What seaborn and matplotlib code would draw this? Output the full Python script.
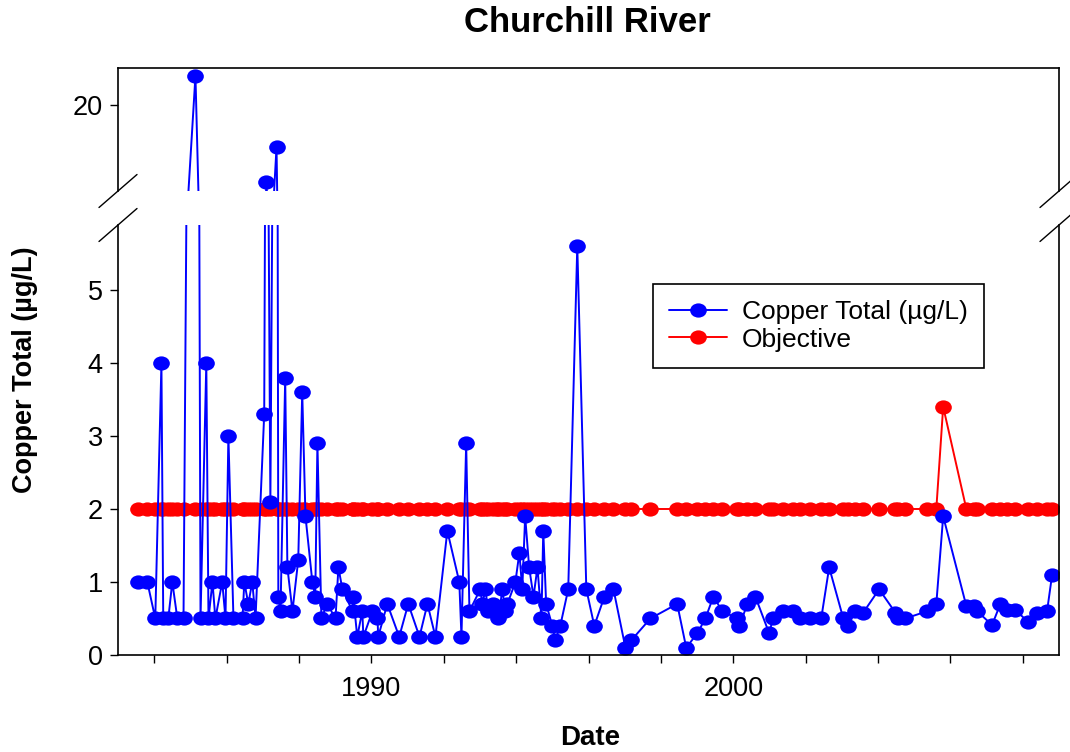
import numpy as np
import pandas as pd
import matplotlib
matplotlib.use("Agg")
import matplotlib.pyplot as plt
import seaborn as sns
from matplotlib.lines import Line2D
from matplotlib.path import Path

dates = [1983.56, 1983.81, 1984.03, 1984.20, 1984.25, 1984.39, 1984.50, 1984.64, 1984.81, 1985.14,
         1985.28, 1985.44, 1985.50, 1985.61, 1985.69, 1985.88, 1985.97, 1986.05, 1986.19, 1986.44,
         1986.49, 1986.60, 1986.71, 1986.80, 1987.04, 1987.10, 1987.21, 1987.38, 1987.43, 1987.49,
         1987.62, 1987.68, 1987.82, 1987.98, 1988.09, 1988.18, 1988.37, 1988.45, 1988.51, 1988.62,
         1988.78, 1989.01, 1989.09, 1989.20, 1989.48, 1989.50, 1989.61, 1989.75, 1989.78, 1990.03,
         1990.17, 1990.19, 1990.44, 1990.77, 1991.02, 1991.33, 1991.55, 1991.77, 1992.10, 1992.43,
         1992.49, 1992.62, 1992.71, 1993.01, 1993.07, 1993.15, 1993.23, 1993.37, 1993.48, 1993.51,
         1993.62, 1993.70, 1993.76, 1993.98, 1994.09, 1994.17, 1994.25, 1994.36, 1994.48, 1994.59,
         1994.70, 1994.75, 1994.83, 1995.00, 1995.08, 1995.22, 1995.44, 1995.69, 1995.94, 1996.16,
         1996.44, 1996.69, 1997.02, 1997.18, 1997.71, 1998.45, 1998.70, 1999.01, 1999.23, 1999.45,
         1999.70, 2000.11, 2000.17, 2000.39, 2000.61, 2000.99, 2001.10, 2001.38, 2001.66, 2001.85,
         2002.13, 2002.43, 2002.65, 2003.04, 2003.18, 2003.37, 2003.59, 2004.03, 2004.48, 2004.56,
         2004.75, 2005.36, 2005.61, 2005.80, 2006.44, 2006.66, 2006.74, 2007.15, 2007.38, 2007.57,
         2007.79, 2008.15, 2008.40, 2008.67, 2008.81]

copper = [1.0, 1.0, 0.5, 4.0, 0.5, 0.5, 1.0, 0.5, 0.5, 23.4,
          0.5, 4.0, 0.5, 1.0, 0.5, 1.0, 0.5, 3.0, 0.5, 0.5,
          1.0, 0.7, 1.0, 0.5, 3.3, 11.0, 2.1, 15.1, 0.8, 0.6,
          3.8, 1.2, 0.6, 1.3, 3.6, 1.9, 1.0, 0.8, 2.9, 0.5,
          0.7, 0.5, 1.2, 0.9, 0.6, 0.8, 0.25, 0.6, 0.25, 0.6,
          0.5, 0.25, 0.7, 0.25, 0.7, 0.25, 0.7, 0.25, 1.7, 1.0,
          0.25, 2.9, 0.6, 0.9, 0.7, 0.9, 0.6, 0.7, 0.6, 0.5,
          0.9, 0.6, 0.7, 1.0, 1.4, 0.9, 1.9, 1.2, 0.8, 1.2,
          0.5, 1.7, 0.7, 0.4, 0.2, 0.4, 0.9, 5.6, 0.9, 0.4,
          0.8, 0.9, 0.1, 0.2, 0.5, 0.7, 0.1, 0.3, 0.5, 0.8,
          0.6, 0.5, 0.4, 0.7, 0.8, 0.3, 0.5, 0.6, 0.6, 0.5,
          0.5, 0.5, 1.2, 0.5, 0.4, 0.6, 0.58, 0.9, 0.58, 0.5,
          0.5, 0.6, 0.7, 1.9, 0.67, 0.67, 0.6, 0.41, 0.7, 0.62,
          0.62, 0.45, 0.58, 0.6, 1.1]

objective = [2.0, 2.0, 2.0, 2.0, 2.0, 2.0, 2.0, 2.0, 2.0, 2.0,
             2.0, 2.0, 2.0, 2.0, 2.0, 2.0, 2.0, 2.0, 2.0, 2.0,
             2.0, 2.0, 2.0, 2.0, 2.0, 2.0, 2.0, 2.0, 2.0, 2.0,
             2.0, 2.0, 2.0, 2.0, 2.0, 2.0, 2.0, 2.0, 2.0, 2.0,
             2.0, 2.0, 2.0, 2.0, 2.0, 2.0, 2.0, 2.0, 2.0, 2.0,
             2.0, 2.0, 2.0, 2.0, 2.0, 2.0, 2.0, 2.0, 2.0, 2.0,
             2.0, 2.0, 2.0, 2.0, 2.0, 2.0, 2.0, 2.0, 2.0, 2.0,
             2.0, 2.0, 2.0, 2.0, 2.0, 2.0, 2.0, 2.0, 2.0, 2.0,
             2.0, 2.0, 2.0, 2.0, 2.0, 2.0, 2.0, 2.0, 2.0, 2.0,
             2.0, 2.0, 2.0, 2.0, 2.0, 2.0, 2.0, 2.0, 2.0, 2.0,
             2.0, 2.0, 2.0, 2.0, 2.0, 2.0, 2.0, 2.0, 2.0, 2.0,
             2.0, 2.0, 2.0, 2.0, 2.0, 2.0, 2.0, 2.0, 2.0, 2.0,
             2.0, 2.0, 2.0, 3.4, 2.0, 2.0, 2.0, 2.0, 2.0, 2.0,
             2.0, 2.0, 2.0, 2.0, 2.0]

x_ticks = list(range(1984, 2009, 2))
x_labels = ["1990" if t == 1990 else "2000" if t == 2000 else "" for t in x_ticks]

sns.set_style("ticks")
plt.rcParams['font.family'] = ['Liberation Sans', 'DejaVu Sans']
plt.rcParams.update({'text.color': 'black', 'axes.labelcolor': 'black',
                     'xtick.color': 'black', 'ytick.color': 'black'})

df_cu = pd.DataFrame({'Date': dates, 'Value': copper})
df_obj = pd.DataFrame({'Date': dates, 'Value': objective})

# slightly wide ellipse marker, like the source
circ = Path.unit_circle()
ell = Path(circ.vertices * np.array([1.17, 1.0]), circ.codes)

W, H = 1070, 752
fig = plt.figure(figsize=(W / 100, H / 100), dpi=100)
L, R = 118, 1059
ax_top = fig.add_axes([L / W, 1 - 191 / H, (R - L) / W, (191 - 68) / H])
ax_bot = fig.add_axes([L / W, 1 - 655 / H, (R - L) / W, (655 - 225) / H])

mk = dict(marker=ell, markersize=12, markeredgewidth=0, linewidth=1.4,
          estimator=None, sort=False, legend=False)
for ax in (ax_top, ax_bot):
    sns.lineplot(data=df_obj, x='Date', y='Value', ax=ax, color='#ff0000', **mk)
    sns.lineplot(data=df_cu, x='Date', y='Value', ax=ax, color='#0000ff', **mk)
    ax.set_xlim(1983, 2009)
    ax.set_xlabel('')
    ax.set_ylabel('')
    for s in ax.spines.values():
        s.set_linewidth(1.2)
        s.set_color('black')
    ax.tick_params(direction='out', length=6, width=1, labelsize=19.5, colors='black', pad=5)

ax_top.set_ylim(10, 24.3)
ax_top.set_yticks([20])
ax_top.set_xticks([])
ax_top.spines['bottom'].set_visible(False)

ax_bot.set_ylim(0, 5.89)
ax_bot.set_yticks([0, 1, 2, 3, 4, 5])
ax_bot.set_xticks(x_ticks)
ax_bot.set_xticklabels(x_labels)
ax_bot.tick_params(axis='x', pad=9)
ax_bot.spines['top'].set_visible(False)

# axis break marks
for xc in (L, R):
    for yc in (191, 225):
        fig.add_artist(Line2D([(xc - 19) / W, (xc + 19) / W],
                              [1 - (yc + 16.5) / H, 1 - (yc - 16.5) / H],
                              transform=fig.transFigure, color='black', lw=1))

handles = [Line2D([], [], color='#0000ff', marker=ell, markersize=12, mew=0, lw=1.4),
           Line2D([], [], color='#ff0000', marker=ell, markersize=12, mew=0, lw=1.4)]
leg = ax_bot.legend(handles, ['Copper Total (µg/L)', 'Objective'], loc='upper left',
                    bbox_to_anchor=((653 - L) / (R - L), (655 - 284) / 430), borderaxespad=0,
                    fontsize=19, fancybox=False, framealpha=1, edgecolor='black',
                    handlelength=2.2, handletextpad=0.55, labelspacing=0.12, borderpad=0.62)
leg.get_frame().set_linewidth(1.2)

fig.text(587 / W, 1 - 22 / H, 'Churchill River', ha='center', va='center',
         fontsize=25, fontweight='bold')
fig.text(590 / W, 1 - 738 / H, 'Date', ha='center', va='center',
         fontsize=20, fontweight='bold')
fig.text(25 / W, 1 - 370 / H, 'Copper Total (µg/L)', ha='center', va='center',
         rotation=90, fontsize=19.5, fontweight='bold')

fig.savefig('out.png', dpi=100)
